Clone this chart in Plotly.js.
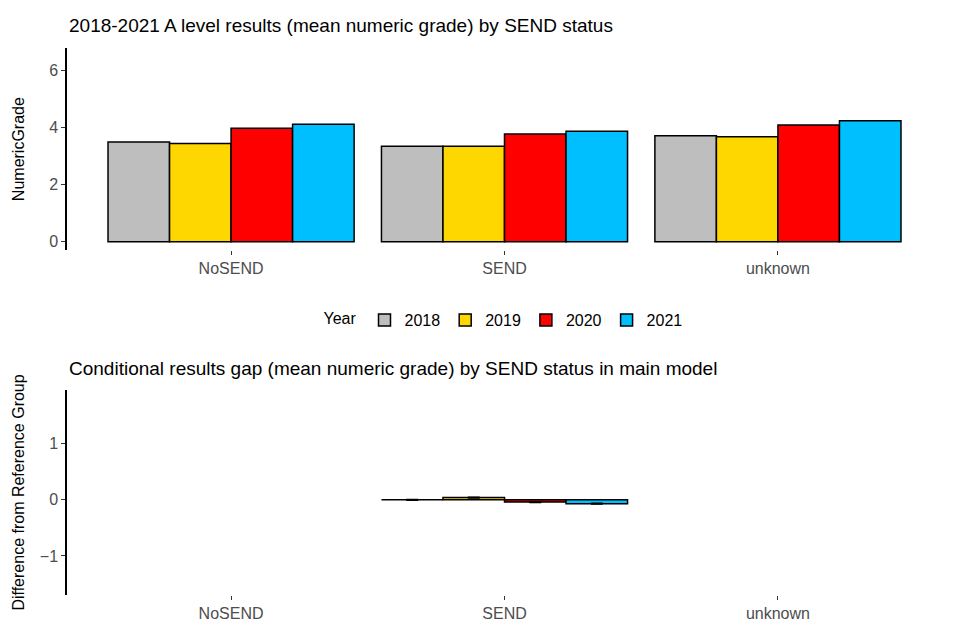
<!DOCTYPE html>
<html><head><script src="https://cdn.plot.ly/plotly-3.0.1.min.js"></script></head>
<body style="margin:0"><div id="c" style="width:960px;height:640px"></div>
<script>
const categories = ["NoSEND","SEND","unknown"];
const years = ["2018","2019","2020","2021"];
const colors = ["#BEBEBE","#FFD700","#FF0000","#00BFFF"];
const grade2018 = [3.50,3.35,3.72];
const grade2019 = [3.45,3.35,3.68];
const grade2020 = [3.98,3.78,4.10];
const grade2021 = [4.12,3.88,4.25];
const gapCats = ["SEND"];
const gap2018 = [0.00];
const gap2019 = [0.04];
const gap2020 = [-0.04];
const gap2021 = [-0.07];
const gapErr = [0.02,0.02,0.02,0.02];
const grades=[grade2018,grade2019,grade2020,grade2021];
const gaps=[gap2018,gap2019,gap2020,gap2021];
const traces=[];
years.forEach((y,i)=>{
 traces.push({type:'bar',x:categories,y:grades[i],name:y,marker:{color:colors[i],line:{color:'black',width:1.5}},xaxis:'x',yaxis:'y',legendgroup:y});
 traces.push({type:'bar',x:gapCats,y:gaps[i],name:y,showlegend:false,marker:{color:colors[i],line:{color:'black',width:1.5}},xaxis:'x2',yaxis:'y2',error_y:{type:'data',array:[gapErr[i]],color:'black',thickness:12,width:0}});
});
const f={family:'Liberation Sans, Arial',size:16,color:'#4d4d4d'};
const ax={showgrid:false,zeroline:false,tickfont:f,ticks:'outside',ticklen:4,tickcolor:'#333'};
Plotly.newPlot('c',traces,{
 width:960,height:640,margin:{l:67,r:18,t:0,b:0},barmode:'group',bargap:0.1,bargroupgap:0,
 plot_bgcolor:'white',paper_bgcolor:'white',font:{family:'Liberation Sans, Arial',color:'black'},
 xaxis:Object.assign({},ax,{domain:[0,1],anchor:'y',type:'category',categoryorder:'array',categoryarray:categories,range:[-0.6,2.6]}),
 yaxis:Object.assign({},ax,{domain:[0.609,0.925],range:[-0.3,6.8],tickvals:[0,2,4,6],showline:true,linecolor:'black',linewidth:1.5,title:{text:'NumericGrade',font:{size:16,color:'black'}}}),
 xaxis2:Object.assign({},ax,{domain:[0,1],anchor:'y2',type:'category',categoryorder:'array',categoryarray:categories,range:[-0.6,2.6]}),
 yaxis2:Object.assign({},ax,{domain:[0.07,0.391],range:[-1.7,1.96],tickvals:[-1,0,1],showline:true,linecolor:'black',linewidth:1.5,title:{text:'Difference from Reference Group',font:{size:16,color:'black'}}}),
 legend:{orientation:'h',x:0.5,xanchor:'center',y:0.5,yanchor:'middle',valign:'middle',title:{text:'Year',font:{size:16},side:'left'},font:{size:16}},
 annotations:[
  {text:'2018-2021 A level results (mean numeric grade) by SEND status',xref:'paper',yref:'paper',x:0,y:0.96,xanchor:'left',yanchor:'middle',showarrow:false,font:{size:19}},
  {text:'Conditional results gap (mean numeric grade) by SEND status in main model',xref:'paper',yref:'paper',x:0,y:0.425,xanchor:'left',yanchor:'middle',showarrow:false,font:{size:19}}
 ]
},{displayModeBar:false});
</script></body></html>
